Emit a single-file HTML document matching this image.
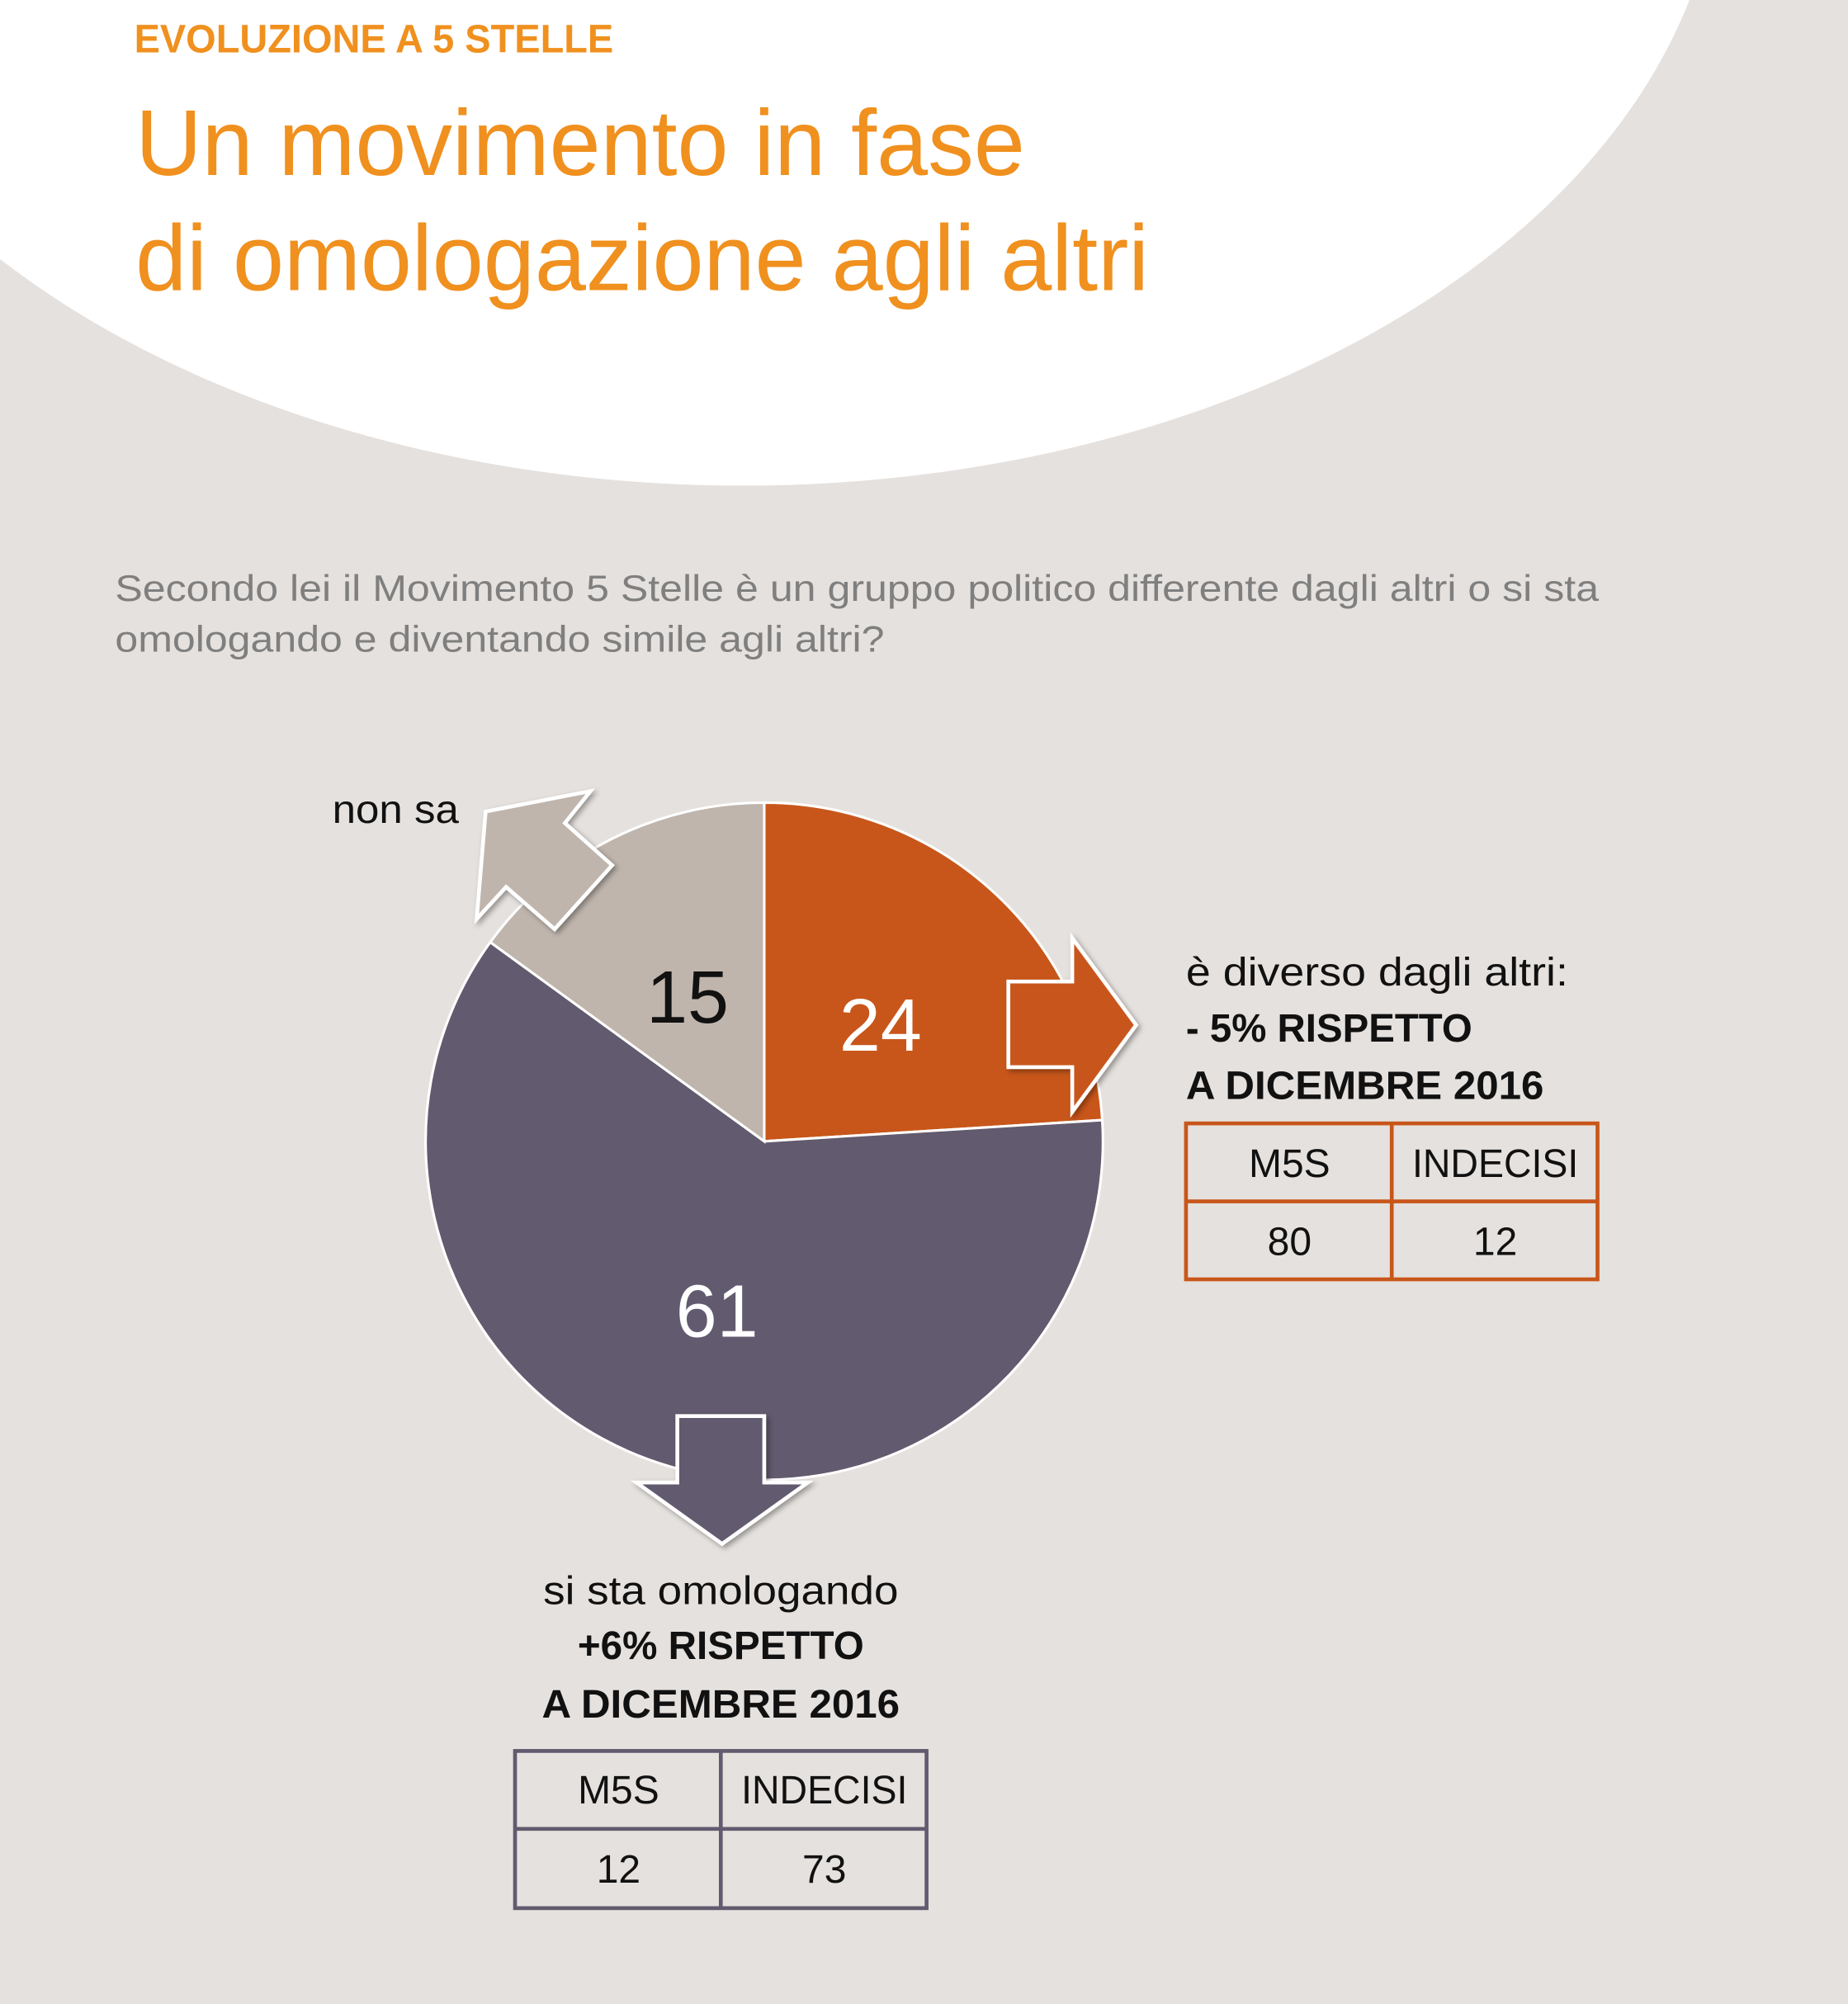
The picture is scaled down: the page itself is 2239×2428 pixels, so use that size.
<!DOCTYPE html>
<html><head><meta charset="utf-8"><style>
html,body{margin:0;padding:0;background:#e5e1de;}
svg{display:block;}
text{font-family:"Liberation Sans",sans-serif;}
</style></head><body>
<svg width="2239" height="2428" viewBox="0 0 1446 1568" preserveAspectRatio="none" xmlns="http://www.w3.org/2000/svg">
<defs>
<filter id="sh" x="-20%" y="-20%" width="140%" height="140%"><feDropShadow dx="2" dy="2" stdDeviation="2" flood-color="#000" flood-opacity="0.35"/></filter>
</defs>
<rect width="1446" height="1568" fill="#e5e1de"/>
<ellipse cx="581" cy="-129" rx="766" ry="509" fill="#ffffff"/>
<text x="105" y="41" font-size="31" font-weight="bold" fill="#f0901e" textLength="375" lengthAdjust="spacingAndGlyphs">EVOLUZIONE A 5 STELLE</text>
<text x="106" y="137" font-size="73" fill="#f0901e" textLength="696" lengthAdjust="spacingAndGlyphs">Un movimento in fase</text>
<text x="106" y="227" font-size="73" fill="#f0901e" textLength="793" lengthAdjust="spacingAndGlyphs">di omologazione agli altri</text>
<text x="90" y="470" font-size="29" fill="#7f7f7f" textLength="1161" lengthAdjust="spacingAndGlyphs">Secondo lei il Movimento 5 Stelle è un gruppo politico differente dagli altri o si sta</text>
<text x="90" y="510" font-size="29" fill="#7f7f7f" textLength="602" lengthAdjust="spacingAndGlyphs">omologando e diventando simile agli altri?</text>

<!-- pie: center 598,893 r 265 -->
<g stroke="#ffffff" stroke-width="2">
<path d="M598,893 L598,628 A265,265 0 0,1 862.5,876.4 Z" fill="#c8561a"/>
<path d="M598,893 L862.5,876.4 A265,265 0 1,1 383.6,737.2 Z" fill="#625a6e"/>
<path d="M598,893 L383.6,737.2 A265,265 0 0,1 598,628 Z" fill="#bfb5ad"/>
</g>
<g stroke="#ffffff" stroke-width="3" stroke-linejoin="miter" filter="url(#sh)">
<polygon points="380,635 462,619 442,644 479,677 434,727 396,694 373,719" fill="#bfb5ad"/>
<polygon points="789,768 839,768 839,734 889,802 839,870 839,835 789,835" fill="#c8561a"/>
<polygon points="530,1108 598,1108 598,1160 632,1160 565,1208 498,1160 530,1160" fill="#625a6e"/>
</g>
<text x="538" y="800" font-size="58" fill="#111" text-anchor="middle">15</text>
<text x="689" y="822" font-size="58" fill="#ffffff" text-anchor="middle">24</text>
<text x="561" y="1046" font-size="58" fill="#ffffff" text-anchor="middle">61</text>

<text x="260" y="644" font-size="31" fill="#111" textLength="99" lengthAdjust="spacingAndGlyphs">non sa</text>

<text x="928" y="771" font-size="31" fill="#111" textLength="299" lengthAdjust="spacingAndGlyphs">è diverso dagli altri:</text>
<text x="928" y="815" font-size="31" font-weight="bold" fill="#111" textLength="224" lengthAdjust="spacingAndGlyphs">- 5% RISPETTO</text>
<text x="928" y="860" font-size="31" font-weight="bold" fill="#111" textLength="280" lengthAdjust="spacingAndGlyphs">A DICEMBRE 2016</text>

<g stroke="#c8561a" stroke-width="3" fill="none">
<rect x="928" y="879" width="322" height="122"/>
<line x1="928" y1="940" x2="1250" y2="940"/>
<line x1="1089" y1="879" x2="1089" y2="1001"/>
</g>
<text x="1009" y="921" font-size="31" fill="#111" text-anchor="middle">M5S</text>
<text x="1170" y="921" font-size="31" fill="#111" text-anchor="middle" textLength="130" lengthAdjust="spacingAndGlyphs">INDECISI</text>
<text x="1009" y="982" font-size="31" fill="#111" text-anchor="middle">80</text>
<text x="1170" y="982" font-size="31" fill="#111" text-anchor="middle">12</text>

<text x="564" y="1255" font-size="31" fill="#111" text-anchor="middle" textLength="278" lengthAdjust="spacingAndGlyphs">si sta omologando</text>
<text x="564" y="1298" font-size="31" font-weight="bold" fill="#111" text-anchor="middle" textLength="224" lengthAdjust="spacingAndGlyphs">+6% RISPETTO</text>
<text x="564" y="1344" font-size="31" font-weight="bold" fill="#111" text-anchor="middle" textLength="280" lengthAdjust="spacingAndGlyphs">A DICEMBRE 2016</text>

<g stroke="#625a6e" stroke-width="3" fill="none">
<rect x="403" y="1370" width="322" height="123"/>
<line x1="403" y1="1431" x2="725" y2="1431"/>
<line x1="564" y1="1370" x2="564" y2="1493"/>
</g>
<text x="484" y="1411" font-size="31" fill="#111" text-anchor="middle">M5S</text>
<text x="645" y="1411" font-size="31" fill="#111" text-anchor="middle" textLength="130" lengthAdjust="spacingAndGlyphs">INDECISI</text>
<text x="484" y="1473" font-size="31" fill="#111" text-anchor="middle">12</text>
<text x="645" y="1473" font-size="31" fill="#111" text-anchor="middle">73</text>
</svg>
</body></html>
